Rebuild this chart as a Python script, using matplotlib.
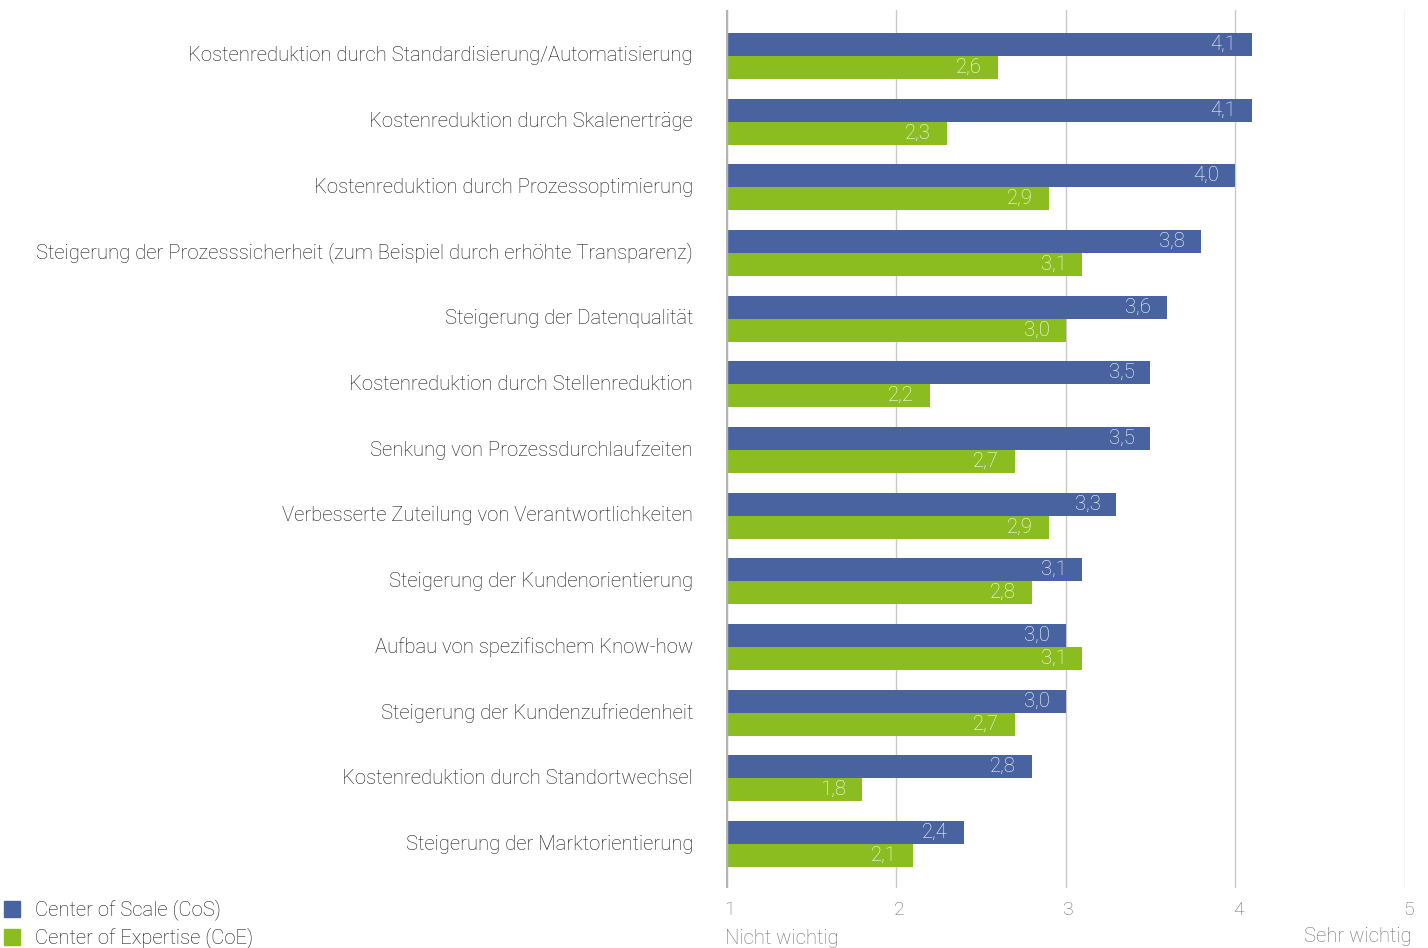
import matplotlib
matplotlib.use("Agg")
import matplotlib.pyplot as plt
from matplotlib.patches import Rectangle
import numpy as np

categories = [
    "Kostenreduktion durch Standardisierung/Automatisierung",
    "Kostenreduktion durch Skalenerträge",
    "Kostenreduktion durch Prozessoptimierung",
    "Steigerung der Prozesssicherheit (zum Beispiel durch erhöhte Transparenz)",
    "Steigerung der Datenqualität",
    "Kostenreduktion durch Stellenreduktion",
    "Senkung von Prozessdurchlaufzeiten",
    "Verbesserte Zuteilung von Verantwortlichkeiten",
    "Steigerung der Kundenorientierung",
    "Aufbau von spezifischem Know-how",
    "Steigerung der Kundenzufriedenheit",
    "Kostenreduktion durch Standortwechsel",
    "Steigerung der Marktorientierung",
]
cos_values = [4.1, 4.1, 4.0, 3.8, 3.6, 3.5, 3.5, 3.3, 3.1, 3.0, 3.0, 2.8, 2.4]
coe_values = [2.6, 2.3, 2.9, 3.1, 3.0, 2.2, 2.7, 2.9, 2.8, 3.1, 2.7, 1.8, 2.1]
series_names = ["Center of Scale (CoS)", "Center of Expertise (CoE)"]
x_ticks = [1, 2, 3, 4, 5]
scale_low = "Nicht wichtig"
scale_high = "Sehr wichtig"

BLUE = "#4963A1"
GREEN = "#8BBD21"
TEXT = "#161616"
GREY = "#6e6e6e"
FONT = "Roboto"
W = "light"
FS = 14.6

fig = plt.figure(figsize=(14.28, 9.48), dpi=100)
ax = fig.add_axes([726 / 1428, 1 - 888 / 948, 679 / 1428, 878 / 948])

y = np.arange(len(categories))
h = 0.35
base = 1
cos_arr = np.array(cos_values)
coe_arr = np.array(coe_values)
ax.barh(y - h / 2, cos_arr - base, left=base, height=h, color=BLUE, zorder=2)
ax.barh(y + h / 2, coe_arr - base, left=base, height=h, color=GREEN, zorder=2)

def fmt(v):
    return f"{v:.1f}".replace(".", ",")

for yi, v in zip(y - h / 2, cos_arr):
    ax.annotate(fmt(v), xy=(v, yi), xytext=(-16, 0), textcoords="offset pixels",
                color="white", ha="right", va="center",
                fontsize=FS, family=FONT, fontweight=W, zorder=3)
for yi, v in zip(y + h / 2, coe_arr):
    ax.annotate(fmt(v), xy=(v, yi), xytext=(-16, 0), textcoords="offset pixels",
                color="white", ha="right", va="center",
                fontsize=FS, family=FONT, fontweight=W, zorder=3)

ax.set_xlim(1, 5)
ax.set_ylim(12.67, -0.70)

for xv in x_ticks[1:]:
    ax.axvline(xv, color="#c9c9c9", lw=1.0, zorder=1)
ax.axvline(1, color="#b3b3b3", lw=2.5, zorder=4)

for s in ax.spines.values():
    s.set_visible(False)
ax.set_xticks([])
ax.set_yticks([])

# category labels on the left
for yi, cat in zip(y, categories):
    ax.annotate(cat, xy=(0, yi), xycoords=("axes fraction", "data"),
                xytext=(-33, 0), textcoords="offset pixels",
                ha="right", va="center", fontsize=FS, family=FONT,
                fontweight=W, color=TEXT)

# scale numbers and end labels under the axis
for xv in x_ticks:
    ax.annotate(str(xv), xy=(xv, 0), xycoords=("data", "axes fraction"),
                xytext=(-2, -22), textcoords="offset pixels",
                ha="left", va="center", fontsize=14, family=FONT,
                fontweight=W, color=GREY)
ax.annotate(scale_low, xy=(1, 0), xycoords=("data", "axes fraction"),
            xytext=(-1, -50), textcoords="offset pixels",
            ha="left", va="center", fontsize=FS, family=FONT,
            fontweight=W, color=GREY)
ax.annotate(scale_high, xy=(5, 0), xycoords=("data", "axes fraction"),
            xytext=(7, -49), textcoords="offset pixels",
            ha="right", va="center", fontsize=FS, family=FONT,
            fontweight=W, color=GREY)

# legend
for i, (name, col) in enumerate(zip(series_names, [BLUE, GREEN])):
    yc = 909 + i * 28
    fig.patches.append(Rectangle((4 / 1428, 1 - (yc + 8) / 948), 16 / 1428, 16 / 948,
                                 transform=fig.transFigure, color=col))
    fig.text(35 / 1428, 1 - (yc + 1) / 948, name, ha="left", va="center",
             fontsize=FS, family=FONT, fontweight=W, color=TEXT)

fig.savefig("out.png", dpi=100, facecolor="white")
